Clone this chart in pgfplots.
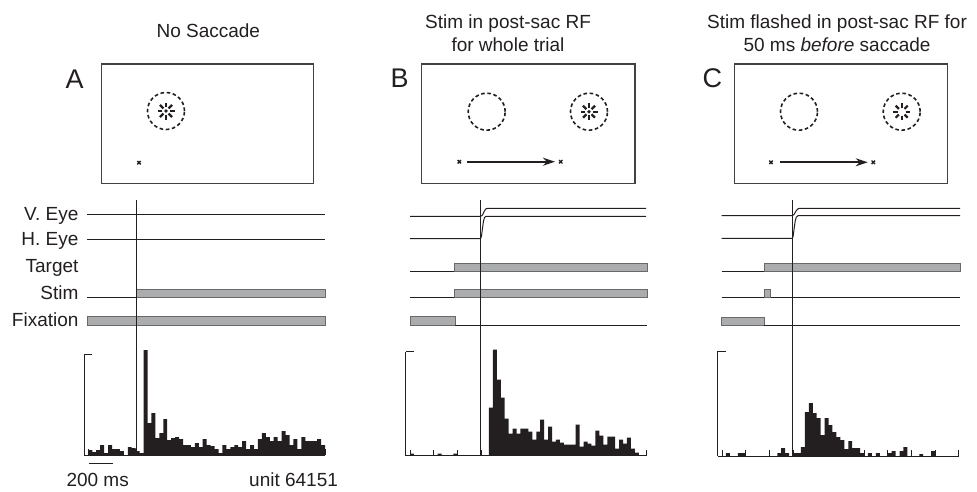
\documentclass[border=0pt]{standalone}
\usepackage{fontspec}
\setmainfont{Liberation Sans}
\usepackage{pgfplots}
\usepackage{pgfplotstable}
\pgfplotsset{compat=1.18}
\usetikzlibrary{arrows.meta}

\definecolor{ink}{RGB}{35,31,32}
\definecolor{gfill}{RGB}{170,172,174}
\definecolor{gline}{RGB}{105,105,107}

% PSTHs: 60 bins, 6 bins = 200 ms; heights in px (bracket = full scale)
\pgfplotstableread[row sep=\\]{
bin rate \\
0 5 \\ 1 3 \\ 2 5 \\ 3 10 \\ 4 2 \\ 5 10 \\ 6 6 \\ 7 6 \\ 8 4 \\ 9 0 \\
10 8 \\ 11 7 \\ 12 4 \\ 13 2 \\ 14 105 \\ 15 32 \\ 16 42 \\ 17 17 \\ 18 22 \\ 19 36 \\
20 15 \\ 21 17 \\ 22 18 \\ 23 16 \\ 24 10 \\ 25 10 \\ 26 8 \\ 27 12 \\ 28 8 \\ 29 16 \\
30 10 \\ 31 9 \\ 32 6 \\ 33 2 \\ 34 10 \\ 35 6 \\ 36 8 \\ 37 10 \\ 38 8 \\ 39 14 \\
40 6 \\ 41 10 \\ 42 6 \\ 43 16 \\ 44 22 \\ 45 18 \\ 46 14 \\ 47 18 \\ 48 14 \\ 49 24 \\
50 20 \\ 51 10 \\ 52 16 \\ 53 6 \\ 54 18 \\ 55 14 \\ 56 14 \\ 57 14 \\ 58 16 \\ 59 10 \\
60 10 \\
}\histA

\pgfplotstableread[row sep=\\]{
bin rate \\
0 2 \\ 1 0 \\ 2 0 \\ 3 0 \\ 4 0 \\ 5 0 \\ 6 0 \\ 7 2 \\ 8 0 \\ 9 0 \\
10 0 \\ 11 2 \\ 12 0 \\ 13 0 \\ 14 0 \\ 15 0 \\ 16 0 \\ 17 0 \\ 18 0 \\ 19 0 \\
20 48 \\ 21 106 \\ 22 76 \\ 23 58 \\ 24 37 \\ 25 22 \\ 26 27 \\ 27 22 \\ 28 27 \\ 29 27 \\
30 24 \\ 31 16 \\ 32 24 \\ 33 36 \\ 34 16 \\ 35 29 \\ 36 14 \\ 37 16 \\ 38 13 \\ 39 11 \\
40 11 \\ 41 11 \\ 42 31 \\ 43 9 \\ 44 14 \\ 45 12 \\ 46 10 \\ 47 25 \\ 48 20 \\ 49 11 \\
50 19 \\ 51 19 \\ 52 7 \\ 53 16 \\ 54 12 \\ 55 18 \\ 56 7 \\ 57 3 \\ 58 0 \\ 59 0 \\
60 0 \\
}\histB

\pgfplotstableread[row sep=\\]{
bin rate \\
0 0 \\ 1 3 \\ 2 0 \\ 3 0 \\ 4 3 \\ 5 3 \\ 6 0 \\ 7 0 \\ 8 0 \\ 9 0 \\
10 0 \\ 11 0 \\ 12 0 \\ 13 0 \\ 14 3 \\ 15 8 \\ 16 3 \\ 17 0 \\ 18 3 \\ 19 3 \\
20 9 \\ 21 44 \\ 22 53 \\ 23 43 \\ 24 38 \\ 25 21 \\ 26 38 \\ 27 31 \\ 28 24 \\ 29 19 \\
30 16 \\ 31 7 \\ 32 15 \\ 33 8 \\ 34 8 \\ 35 3 \\ 36 0 \\ 37 3 \\ 38 0 \\ 39 3 \\
40 0 \\ 41 0 \\ 42 3 \\ 43 5 \\ 44 0 \\ 45 5 \\ 46 9 \\ 47 0 \\ 48 0 \\ 49 0 \\
50 2 \\ 51 0 \\ 52 0 \\ 53 5 \\ 54 0 \\ 55 0 \\ 56 0 \\ 57 0 \\ 58 0 \\ 59 0 \\
60 0 \\
}\histC

\newcommand\lab{\fontsize{19}{22}\selectfont}
\newcommand\ttl{\fontsize{19}{22}\selectfont}

\tikzset{
  gbar/.style={fill=gfill, draw=gline, line width=0.8pt},
  trace/.style={ink, line width=1pt},
  rf/.style={ink, line width=1.6pt, dash pattern=on 3.6pt off 2.6pt},
  stim/.pic={
    \foreach \a in {0,45,...,315}{\draw[ink, line width=2.2pt] (\a:3.6pt) -- (\a:8.5pt);}
    \fill[ink] (0,0) circle (1.9pt);
  },
  stimopen/.pic={
    \foreach \a in {0,45,...,315}{\draw[ink, line width=2.2pt] (\a:4pt) -- (\a:8.5pt);}
  },
}

\pgfplotsset{
  histo/.style={
    width=241.4pt, height=#1pt, scale only axis,
    xmin=-1.1, xmax=60.1, ymin=0, ymax=#1,
    axis x line=bottom, axis y line=left,
    axis line style={-, ink, line width=0.9pt},
    xtick={0,6,...,60}, ytick=\empty, xticklabels={},
    tick align=inside, major tick length=6pt,
    tick style={ink, line width=0.9pt},
    clip=false,
  },
}

\begin{document}
\begin{tikzpicture}
\path[use as bounding box] (0,0) rectangle (977pt,491pt);

% canvas in pixel coordinates (y down)
\begin{axis}[at={(0pt,0pt)}, anchor=south west,
  width=977pt, height=491pt, scale only axis,
  xmin=0, xmax=977, ymin=0, ymax=491, y dir=reverse,
  hide axis, clip=false]

% titles and panel letters
\node[anchor=base, font=\ttl, ink] at (axis cs:208.3,37) {No Saccade};
\node[anchor=base, font=\ttl, ink] at (axis cs:508,28) {Stim in post-sac RF};
\node[anchor=base, font=\ttl, ink] at (axis cs:508,51) {for whole trial};
\node[anchor=base, font=\ttl, ink] at (axis cs:837,28) {Stim flashed in post-sac RF for};
\node[anchor=base, font=\ttl, ink] at (axis cs:837,51) {50 ms \textit{before} saccade};
\node[anchor=base west, font=\fontsize{27}{30}\selectfont, ink] at (axis cs:62,88) {A};
\node[anchor=base west, font=\fontsize{27}{30}\selectfont, ink] at (axis cs:387,87) {B};
\node[anchor=base west, font=\fontsize{27}{30}\selectfont, ink] at (axis cs:699,87) {C};

% screens
\draw[ink!85, line width=1.2pt] (axis cs:101.7,64) rectangle (axis cs:313.3,183.3);
\draw[ink!85, line width=1.2pt] (axis cs:421.7,64) rectangle (axis cs:635,183.3);
\draw[ink!85, line width=1.2pt] (axis cs:734.3,64) rectangle (axis cs:947.3,183.3);

\draw[rf] (axis cs:166,111) circle[radius=18.5pt];
\draw[rf] (axis cs:486.7,111.7) circle[radius=18.5pt];
\draw[rf] (axis cs:589,111.7) circle[radius=18.5pt];
\draw[rf] (axis cs:799,111.7) circle[radius=18.5pt];
\draw[rf] (axis cs:901.7,111.7) circle[radius=18.5pt];
\path (axis cs:166,111) pic{stim};
\path (axis cs:589,111.7) pic{stim};
\path (axis cs:901.7,111.7) pic{stimopen};

\addplot[only marks, mark=x, mark size=2.4pt, mark options={ink, line width=1.4pt}]
  coordinates {(139,162.7) (459.3,161.7) (560.7,161.7) (771,162.3) (873.3,162.3)};
\addplot[ink, line width=1.8pt, -{Stealth[length=12pt, width=8pt]}]
  coordinates {(467.3,161.7) (555,161.7)};
\addplot[ink, line width=1.8pt, -{Stealth[length=12pt, width=8pt]}]
  coordinates {(780,162.3) (867.7,162.3)};

% row labels
\node[anchor=base east, font=\lab, ink] at (axis cs:82,220) {V. Eye};
\node[anchor=base east, font=\lab, ink] at (axis cs:82,245.5) {H. Eye};
\node[anchor=base east, font=\lab, ink] at (axis cs:82,272.5) {Target};
\node[anchor=base east, font=\lab, ink] at (axis cs:82,299.5) {Stim};
\node[anchor=base east, font=\lab, ink] at (axis cs:82,326.5) {Fixation};

% timing A
\addplot[trace] coordinates {(87,214) (325,214)};
\addplot[trace] coordinates {(87,239) (325,239)};
\addplot[trace] coordinates {(87,297.3) (136.7,297.3)};
\draw[gbar] (axis cs:136.7,289.3) rectangle (axis cs:325,297.3);
\draw[gbar] (axis cs:87,316.7) rectangle (axis cs:325,325);

% timing B
\addplot[trace] coordinates {(410,216.3) (480.7,216.3) (482.5,215) (484.3,211) (486,208.8) (488,208.3) (646,208.3)};
\addplot[trace] coordinates {(410,238.5) (480.7,238.5) (481.5,236) (482.5,228) (483.5,221) (484.5,217.5) (486,216.3) (646,216.3)};
\addplot[trace] coordinates {(410,271) (454.3,271)};
\draw[gbar] (axis cs:454.3,263.3) rectangle (axis cs:647,271);
\addplot[trace] coordinates {(410,297.3) (454.3,297.3)};
\draw[gbar] (axis cs:454.3,289.3) rectangle (axis cs:647,297.3);
\draw[gbar] (axis cs:410,316.7) rectangle (axis cs:455,325);
\addplot[trace] coordinates {(455,325) (647,325)};

% timing C
\addplot[trace] coordinates {(721.7,215.7) (792.3,215.7) (794,214.5) (796,211) (798,208.8) (800,208.3) (960,208.3)};
\addplot[trace] coordinates {(721.7,238.3) (792.3,238.3) (793.2,236) (794.2,228) (795.2,221) (796.2,217.3) (798,215.7) (960,215.7)};
\addplot[trace] coordinates {(721.7,271) (764.3,271)};
\draw[gbar] (axis cs:764.3,263.3) rectangle (axis cs:960,271);
\addplot[trace] coordinates {(721.7,297.3) (960,297.3)};
\draw[gbar] (axis cs:764.3,289.3) rectangle (axis cs:770.3,297.3);
\draw[gbar] (axis cs:721.7,317) rectangle (axis cs:764,325);
\addplot[trace] coordinates {(764,325) (960,325)};

% event lines
\addplot[ink, line width=1pt] coordinates {(136.7,200) (136.7,455)};
\addplot[ink, line width=1pt] coordinates {(480.7,200) (480.7,455.7)};
\addplot[ink, line width=1pt] coordinates {(792.3,200) (792.3,456)};

% scale bar and unit
\addplot[ink, line width=1pt] coordinates {(89.3,463.3) (112.7,463.3)};
\node[anchor=base west, font=\lab, ink] at (axis cs:63,486.5) {200 ms};
\node[anchor=base east, font=\lab, ink] at (axis cs:341.5,486.5) {unit 64151};
\end{axis}

% PSTHs
\begin{axis}[histo=101, at={(84pt,36pt)}, anchor=south west]
\addplot[const plot mark left, fill=ink, draw=none] table[x=bin, y=rate] {\histA} \closedcycle;
\draw[ink, line width=0.9pt] (axis cs:-1.1,101) -- ++(4pt,0);
\end{axis}
\begin{axis}[histo=104, at={(405.7pt,35.3pt)}, anchor=south west]
\addplot[const plot mark left, fill=ink, draw=none] table[x=bin, y=rate] {\histB} \closedcycle;
\draw[ink, line width=0.9pt] (axis cs:-1.1,104) -- ++(4pt,0);
\end{axis}
\begin{axis}[histo=105, at={(717.7pt,35pt)}, anchor=south west]
\addplot[const plot mark left, fill=ink, draw=none] table[x=bin, y=rate] {\histC} \closedcycle;
\draw[ink, line width=0.9pt] (axis cs:-1.1,105) -- ++(4pt,0);
\end{axis}
\end{tikzpicture}
\end{document}
